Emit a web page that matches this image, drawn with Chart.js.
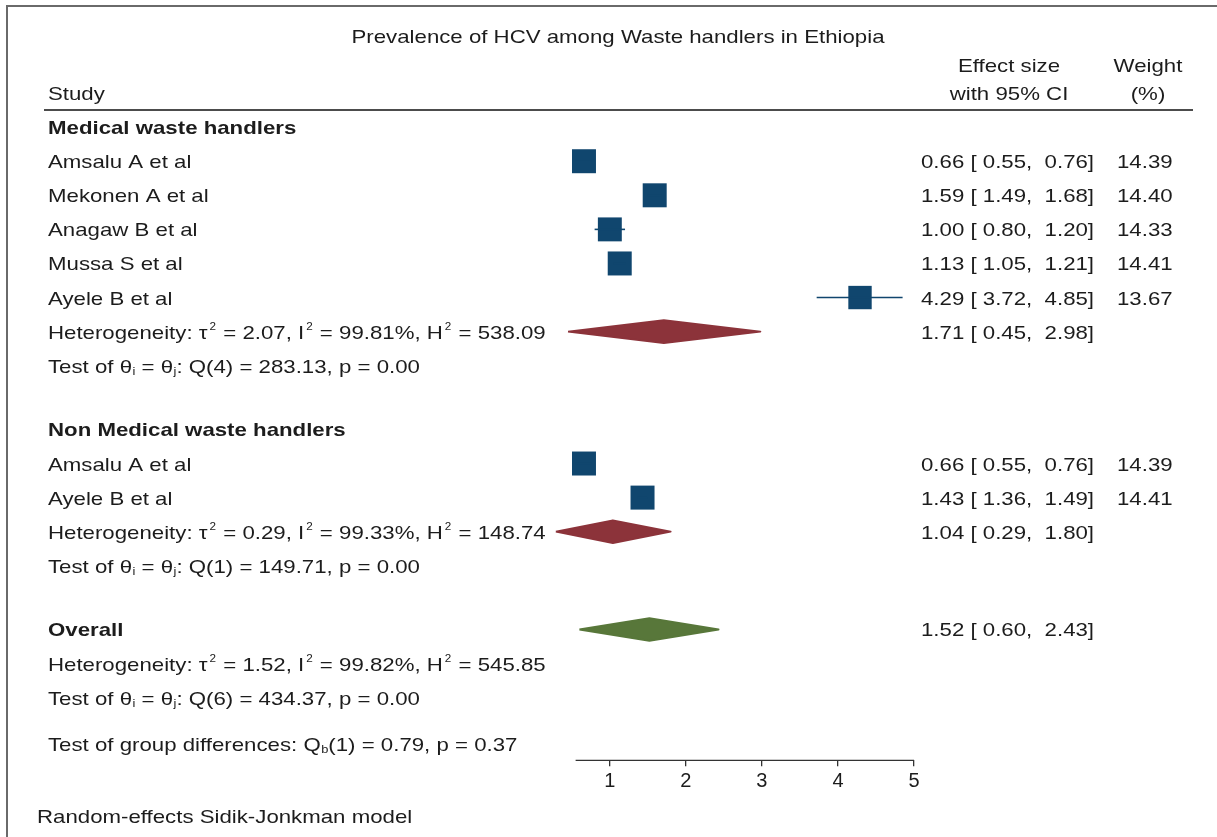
<!DOCTYPE html>
<html><head><meta charset="utf-8">
<script src="https://cdn.jsdelivr.net/npm/chart.js@4.4.1/dist/chart.umd.min.js"></script>
<style>html,body{margin:0;padding:0;background:#fff}#wrap{width:1217px;height:837px;position:relative}</style>
</head><body><div id="wrap"><canvas id="c"></canvas></div>
<script>
// ---- data ----
const chartTitle = 'Prevalence of HCV among Waste handlers in Ethiopia';
const studyNames = ['Amsalu A et al','Mekonen A et al','Anagaw B et al','Mussa S et al','Ayele B et al','Amsalu A et al','Ayele B et al'];
const studyRows = [1,2,3,4,5,10,11];
const effect = [0.66,1.59,1.00,1.13,4.29,0.66,1.43];
const lower  = [0.55,1.49,0.80,1.05,3.72,0.55,1.36];
const upper  = [0.76,1.68,1.20,1.21,4.85,0.76,1.49];
const weight = [14.39,14.40,14.33,14.41,13.67,14.39,14.41];

const groupNames = ['Medical waste handlers','Non Medical waste handlers','Overall'];
const groupHeadRows = [0,9,15];
const poolRows = [6,12,15];
const poolEst = [1.71,1.04,1.52];
const poolLo  = [0.45,0.29,0.60];
const poolHi  = [2.98,1.80,2.43];
const hetRows = [6,12,16];
const tau2 = [2.07,0.29,1.52];
const i2   = [99.81,99.33,99.82];
const h2   = [538.09,148.74,545.85];
const testRows = [7,13,17];
const qDf  = [4,1,6];
const qVal = [283.13,149.71,434.37];
const pVal = [0.00,0.00,0.00];
const groupDiff = {df:1, q:0.79, p:0.37, row:18.35};
const blankRows = [8,14];
const xTicks = [1,2,3,4,5];
const modelNote = 'Random-effects Sidik-Jonkman model';

// ---- layout / style ----
const BLANK_H = 0.87; // blank separator rows are a little shorter
const rowPos = r => r - blankRows.filter(b => r > b).length * (1 - BLANK_H);
const FONT = '"Liberation Sans", Arial, sans-serif';
const FS = 19, SX = 1.17;
const BLUE = '#10466e', RED = '#8c333a', GREEN = '#58773a', INK = '#1c1c1c';
const f2 = v => v.toFixed(2);
const ciText = (e,l,h) => f2(e) + ' [ ' + f2(l) + ',  ' + f2(h) + ']';

function txt(ctx, s, x, y, opt) {
  opt = opt || {};
  const size = opt.size || FS;
  ctx.save();
  ctx.font = (opt.bold ? 'bold ' : '') + size + 'px ' + FONT;
  ctx.fillStyle = opt.color || INK;
  ctx.textBaseline = 'alphabetic';
  ctx.textAlign = 'left';
  const w = ctx.measureText(s).width * SX;
  let x0 = x;
  if (opt.align === 'center') x0 = x - w / 2; else if (opt.align === 'right') x0 = x - w;
  ctx.translate(x0, y); ctx.scale(SX, 1); ctx.fillText(s, 0, 0);
  ctx.restore();
  return w;
}
function rich(ctx, parts, x, y) {
  let cx = x;
  for (const p of parts) {
    if (typeof p === 'string') cx += txt(ctx, p, cx, y);
    else if (p.sup) cx += txt(ctx, p.sup, cx + 2, y - FS * 0.47, {size: Math.round(FS * 0.55)}) + 3;
    else if (p.sub) cx += txt(ctx, p.sub, cx + 0.5, y + FS * 0.12, {size: Math.round(FS * 0.58)}) + 0.5;
  }
  return cx;
}

// ---- datasets ----
const datasets = [];
studyNames.forEach((n, i) => {
  const y = rowPos(studyRows[i]);
  datasets.push({type:'scatter', showLine:true, data:[{x:lower[i], y}, {x:upper[i], y}],
    borderColor:BLUE, borderWidth:1.6, pointRadius:0, fill:false, clip:false});
});
datasets.push({type:'scatter', data: studyNames.map((n,i)=>({x:effect[i], y:rowPos(studyRows[i])})),
  pointStyle:'rect', pointRadius: weight.map(w => 12 * Math.sqrt(w / 14.41) / Math.SQRT1_2),
  backgroundColor:BLUE, borderWidth:0, clip:false});
const DH = 0.335;
poolEst.forEach((e, i) => {
  const r = rowPos(poolRows[i]), c = i === 2 ? GREEN : RED;
  datasets.push({type:'scatter', showLine:true, fill:'shape',
    data:[{x:poolLo[i], y:r}, {x:e, y:r - DH}, {x:poolHi[i], y:r}, {x:e, y:r + DH}, {x:poolLo[i], y:r}],
    borderColor:c, backgroundColor:c, borderWidth:1.8, borderJoinStyle:'round', pointRadius:0, clip:false});
});

const textPlugin = {
  id:'forestText',
  afterDraw(chart) {
    const ctx = chart.ctx, ys = chart.scales.y, xs = chart.scales.x;
    const base = r => ys.getPixelForValue(rowPos(r)) + 7;
    // frame
    ctx.save(); ctx.strokeStyle = '#6a6a6a'; ctx.lineWidth = 2;
    ctx.beginPath(); ctx.moveTo(7, 840); ctx.lineTo(7, 6); ctx.lineTo(1220, 6); ctx.stroke();
    // header rule
    ctx.strokeStyle = '#111'; ctx.lineWidth = 1.5;
    ctx.beginPath(); ctx.moveTo(44, 110); ctx.lineTo(1193, 110); ctx.stroke();
    // axis baseline
    const ab = chart.chartArea.bottom;
    ctx.strokeStyle = '#333'; ctx.lineWidth = 1.3;
    ctx.beginPath(); ctx.moveTo(xs.getPixelForValue(Math.min(...lower)), ab); ctx.lineTo(xs.getPixelForValue(xTicks[xTicks.length-1]), ab); ctx.stroke();
    ctx.restore();
    // titles
    txt(ctx, chartTitle, 618, 43, {align:'center'});
    txt(ctx, 'Effect size', 1009, 72, {align:'center'});
    txt(ctx, 'with 95% CI', 1009, 100, {align:'center'});
    txt(ctx, 'Weight', 1148, 72, {align:'center'});
    txt(ctx, '(%)', 1148, 100, {align:'center'});
    txt(ctx, 'Study', 48, 100);
    // groups
    groupNames.forEach((g, i) => txt(ctx, g, 48, base(groupHeadRows[i]), {bold:true}));
    // studies
    studyNames.forEach((n, i) => {
      const y = base(studyRows[i]);
      txt(ctx, n, 48, y);
      txt(ctx, ciText(effect[i], lower[i], upper[i]), 921, y);
      txt(ctx, f2(weight[i]), 1117, y);
    });
    // pooled
    poolEst.forEach((e, i) => {
      txt(ctx, ciText(e, poolLo[i], poolHi[i]), 921, base(poolRows[i]));
      rich(ctx, ['Heterogeneity: \u03c4', {sup:'2'}, ' = ' + f2(tau2[i]) + ', I', {sup:'2'}, ' = ' + f2(i2[i]) + '%, H', {sup:'2'}, ' = ' + f2(h2[i])], 48, base(hetRows[i]));
      rich(ctx, ['Test of \u03b8', {sub:'i'}, ' = \u03b8', {sub:'j'}, ': Q(' + qDf[i] + ') = ' + f2(qVal[i]) + ', p = ' + f2(pVal[i])], 48, base(testRows[i]));
    });
    rich(ctx, ['Test of group differences: Q', {sub:'b'}, '(' + groupDiff.df + ') = ' + f2(groupDiff.q) + ', p = ' + f2(groupDiff.p)], 48, base(groupDiff.row));
    txt(ctx, modelNote, 37, 823);
  }
};

Chart.defaults.font.family = FONT;
new Chart(document.getElementById('c'), {
  type:'scatter',
  data:{datasets},
  options:{
    responsive:true, maintainAspectRatio:false, animation:false,
    layout:{padding:{left:549, right:303, top:20, bottom:40.7}},
    plugins:{legend:{display:false}, tooltip:{enabled:false}},
    scales:{
      x:{type:'linear', min:0.2, max:5,
        afterBuildTicks: s => { s.ticks = xTicks.map(v => ({value:v})); },
        border:{display:false},
        grid:{drawOnChartArea:false, drawTicks:true, tickLength:6, color:'#333', lineWidth:1.3},
        ticks:{color:INK, font:{size:20}, padding:3, maxRotation:0}},
      y:{type:'linear', display:false, reverse:true, min:-3.1437, max:18.578}
    }
  },
  plugins:[textPlugin]
});
</script>
</body></html>
